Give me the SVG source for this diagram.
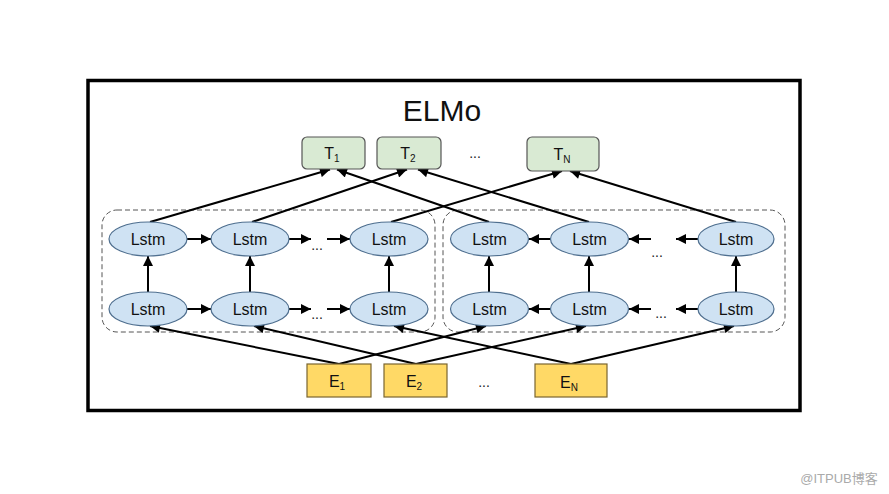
<svg xmlns="http://www.w3.org/2000/svg" width="889" height="494" viewBox="0 0 889 494">
<style>
text{font-family:"Liberation Sans",Arial,sans-serif;fill:#111}
.lstm ellipse{fill:#cfe2f3;stroke:#4f6f8f;stroke-width:1.2}
.lstm text{font-size:16px;text-anchor:middle}
.t rect{fill:#d9ead3;stroke:#555;stroke-width:1.2}
.e rect{fill:#ffd966;stroke:#7a6530;stroke-width:1.2}
.t text,.e text{font-size:16px;text-anchor:middle}
.sub{font-size:10px}
.dots{font-size:14px;text-anchor:middle;fill:#222}
#connectors line{stroke:#000;stroke-width:2;marker-end:url(#ah)}
.grp{fill:none;stroke:#555;stroke-width:1;stroke-dasharray:5 3}
</style>
<defs>
<marker id="ah" viewBox="0 0 10 10" refX="10" refY="5" markerWidth="5.5" markerHeight="5" orient="auto" markerUnits="strokeWidth">
<path d="M0,0 L10,5 L0,10 z" fill="#000"/>
</marker>
</defs>
<rect width="889" height="494" fill="#fff"/>
<rect x="88" y="80.5" width="712" height="330" fill="none" stroke="#000" stroke-width="3.5"/>
<text x="442" y="121" font-size="30" text-anchor="middle">ELMo</text>
<rect class="grp" x="102" y="210" width="333" height="122" rx="15"/>
<rect class="grp" x="443" y="210" width="342" height="122" rx="15"/>
<g id="connectors">
<line x1="187" y1="239" x2="211" y2="239"/>
<line x1="289" y1="239" x2="311" y2="239"/>
<line x1="327" y1="239" x2="350" y2="239"/>
<line x1="187" y1="309" x2="211" y2="309"/>
<line x1="289" y1="309" x2="311" y2="309"/>
<line x1="327" y1="309" x2="350" y2="309"/>
<line x1="551" y1="239" x2="529" y2="239"/>
<line x1="651" y1="239" x2="629" y2="239"/>
<line x1="698" y1="239" x2="676" y2="239"/>
<line x1="551" y1="309" x2="529" y2="309"/>
<line x1="651" y1="309" x2="629" y2="309"/>
<line x1="698" y1="309" x2="676" y2="309"/>
<line x1="148" y1="292" x2="148" y2="256"/>
<line x1="250" y1="292" x2="250" y2="256"/>
<line x1="389" y1="292" x2="389" y2="256"/>
<line x1="489" y1="292" x2="489" y2="256"/>
<line x1="589" y1="292" x2="589" y2="256"/>
<line x1="736" y1="292" x2="736" y2="256"/>
<line x1="150" y1="222" x2="330" y2="169.5"/>
<line x1="252" y1="222" x2="407" y2="169.5"/>
<line x1="391" y1="222" x2="562" y2="171"/>
<line x1="489" y1="222" x2="337" y2="169.5"/>
<line x1="589" y1="222" x2="418" y2="169.5"/>
<line x1="736" y1="222" x2="570" y2="171"/>
<line x1="339" y1="364" x2="150" y2="326"/>
<line x1="339" y1="364" x2="486" y2="326"/>
<line x1="416" y1="364" x2="254" y2="326"/>
<line x1="416" y1="364" x2="586" y2="326"/>
<line x1="571" y1="364" x2="394" y2="326"/>
<line x1="571" y1="364" x2="734" y2="326"/>
</g>
<g id="lstm-f1" class="lstm"><ellipse cx="148" cy="239" rx="39" ry="17"/><text x="148" y="245">Lstm</text></g>
<g id="lstm-f2" class="lstm"><ellipse cx="250" cy="239" rx="39" ry="17"/><text x="250" y="245">Lstm</text></g>
<g id="lstm-f3" class="lstm"><ellipse cx="389" cy="239" rx="39" ry="17"/><text x="389" y="245">Lstm</text></g>
<g id="lstm-f4" class="lstm"><ellipse cx="148" cy="309" rx="39" ry="17"/><text x="148" y="315">Lstm</text></g>
<g id="lstm-f5" class="lstm"><ellipse cx="250" cy="309" rx="39" ry="17"/><text x="250" y="315">Lstm</text></g>
<g id="lstm-f6" class="lstm"><ellipse cx="389" cy="309" rx="39" ry="17"/><text x="389" y="315">Lstm</text></g>
<g id="lstm-b1" class="lstm"><ellipse cx="489.5" cy="239" rx="39" ry="17"/><text x="489.5" y="245">Lstm</text></g>
<g id="lstm-b2" class="lstm"><ellipse cx="589.5" cy="239" rx="39" ry="17"/><text x="589.5" y="245">Lstm</text></g>
<g id="lstm-b3" class="lstm"><ellipse cx="736" cy="239" rx="38" ry="17"/><text x="736" y="245">Lstm</text></g>
<g id="lstm-b4" class="lstm"><ellipse cx="489.5" cy="309" rx="39" ry="17"/><text x="489.5" y="315">Lstm</text></g>
<g id="lstm-b5" class="lstm"><ellipse cx="589.5" cy="309" rx="39" ry="17"/><text x="589.5" y="315">Lstm</text></g>
<g id="lstm-b6" class="lstm"><ellipse cx="736" cy="309" rx="38" ry="17"/><text x="736" y="315">Lstm</text></g>
<text class="dots" x="317" y="250">...</text>
<text class="dots" x="317" y="319">...</text>
<text class="dots" x="657" y="257">...</text>
<text class="dots" x="661" y="318">...</text>
<g id="t1" class="t"><rect x="302" y="137" width="63" height="32" rx="5"/><text x="332" y="159">T<tspan class="sub" dy="3">1</tspan></text></g>
<g id="t2" class="t"><rect x="377" y="137" width="64" height="32" rx="5"/><text x="408" y="159">T<tspan class="sub" dy="3">2</tspan></text></g>
<text class="dots" x="475" y="158">...</text>
<g id="tn" class="t"><rect x="527" y="137" width="72" height="34" rx="5"/><text x="562" y="160">T<tspan class="sub" dy="3">N</tspan></text></g>
<g id="e1" class="e"><rect x="307" y="364" width="64" height="33"/><text x="337" y="387">E<tspan class="sub" dy="3">1</tspan></text></g>
<g id="e2" class="e"><rect x="384" y="364" width="63" height="33"/><text x="414" y="387">E<tspan class="sub" dy="3">2</tspan></text></g>
<text class="dots" x="484" y="387">...</text>
<g id="en" class="e"><rect x="535" y="364" width="72" height="33"/><text x="569" y="388">E<tspan class="sub" dy="3">N</tspan></text></g>
<text x="839" y="483" font-size="13" text-anchor="middle" style="fill:#aaa;font-family:'Liberation Sans','Noto Sans CJK SC',sans-serif">@ITPUB博客</text>
</svg>
